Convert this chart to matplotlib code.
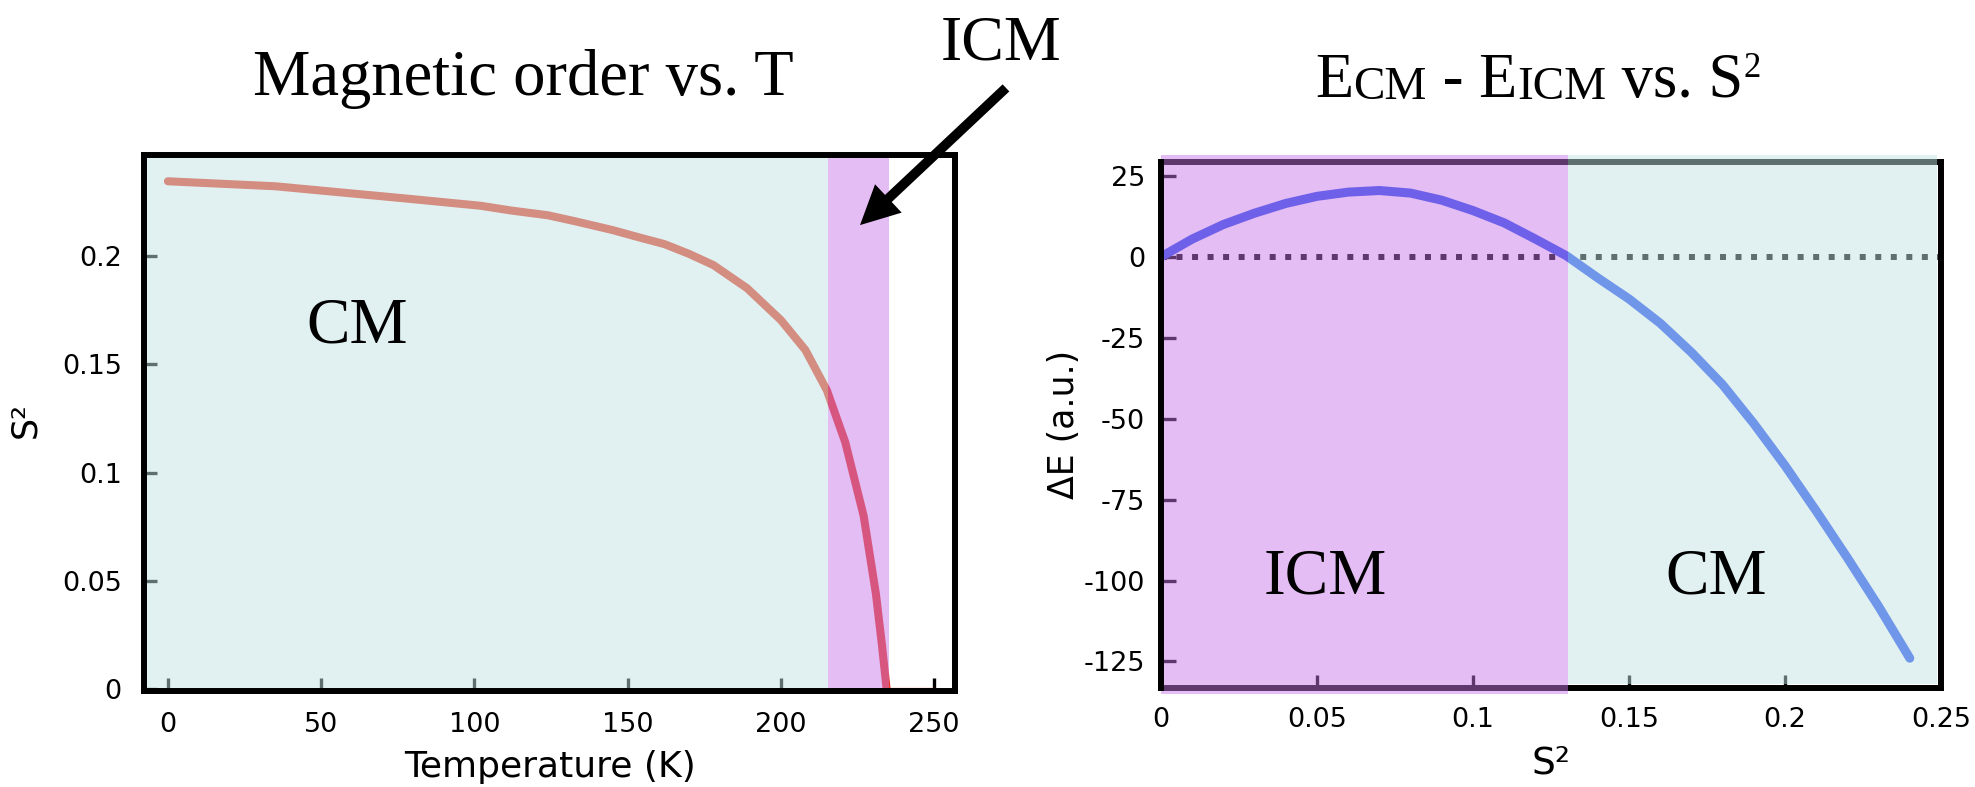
import matplotlib
matplotlib.use("Agg")
import matplotlib.pyplot as plt
from matplotlib.patches import Rectangle, FancyArrowPatch

plt.rcParams['font.family'] = ['DejaVu Sans']
plt.rcParams['axes.unicode_minus'] = False

# ── data ──────────────────────────────────────────────────────────────────────
# left panel: order parameter vs temperature
temp_K = [0, 35, 78, 102, 112, 124, 133, 145, 154, 162, 170, 178, 189, 200,
          208, 215, 221, 227, 231, 233, 234.5]
s2_T   = [0.2345, 0.2322, 0.2265, 0.2232, 0.2210, 0.2188, 0.2160, 0.2120, 0.2085,
          0.2055, 0.2010, 0.1958, 0.1851, 0.1704, 0.1566, 0.1380, 0.1140, 0.0800,
          0.0440, 0.0200, 0.0]
zero_T  = [234.5, 250]
zero_s2 = [0.0, 0.0]
icm_T = (215.4, 235.2)        # ICM window in temperature
cm_T_end = 215.4

x_ticks_T = [0, 50, 100, 150, 200, 250]
y_ticks_s2 = [0, 0.05, 0.1, 0.15, 0.2]
y_tick_lbl_s2 = ["0", "0.05", "0.1", "0.15", "0.2"]

# right panel: energy difference vs S^2
s2 = [0, 0.01, 0.02, 0.03, 0.04, 0.05, 0.06, 0.07, 0.08, 0.09, 0.10, 0.11, 0.12,
      0.13, 0.14, 0.15, 0.16, 0.17, 0.18, 0.19, 0.20, 0.21, 0.22, 0.23, 0.24]
dE = [0, 5.5, 10, 13.5, 16.5, 18.7, 20.0, 20.5, 19.7, 17.5, 14.3, 10.5, 5.5,
      0.3, -6.5, -13, -20.5, -29.5, -39.5, -51.5, -64.5, -78.5, -93, -108, -124]
s2_split = 0.1304             # ICM | CM boundary
s2_cm_end = 0.2488
x_ticks_s2 = [0, 0.05, 0.1, 0.15, 0.2, 0.25]
x_tick_lbl_s2 = ["0", "0.05", "0.1", "0.15", "0.2", "0.25"]
y_ticks_dE = [25, 0, -25, -50, -75, -100, -125]

# ── colours ──────────────────────────────────────────────────────────────────
CYAN = (194/255, 227/255, 229/255)
PURPLE = (197/255, 117/255, 230/255)
A_CYAN, A_PURPLE = 0.49, 0.478
RED = '#e73b23'
BLUE = '#214eec'
SERIF = ['Liberation Serif', 'DejaVu Serif']

W, H = 1975, 787
fig = plt.figure(figsize=(W/100, H/100), dpi=100)

ax1 = fig.add_axes([144/W, 1-691/H, 811/W, 535.5/H])
ax2 = fig.add_axes([1161/W, 1-688/H, 780/W, 526.3/H])

for ax in (ax1, ax2):
    for sp in ax.spines.values():
        sp.set_linewidth(4.3)
        sp.set_zorder(20)

# ── left panel ───────────────────────────────────────────────────────────────
ax1.plot(temp_K, s2_T, color=RED, lw=5.8, solid_capstyle='round',
         solid_joinstyle='round', zorder=3)
ax1.plot(zero_T, zero_s2, color=RED, lw=1.6, zorder=3)
ax1.set_xlim(-7.8, 256.8)
ax1.set_ylim(-0.0008, 0.2464)
ax1.set_xticks(x_ticks_T)
ax1.set_yticks(y_ticks_s2, y_tick_lbl_s2)
ax1.tick_params(axis='both', direction='in', length=9.5, width=2.4,
                labelsize=19.5)
ax1.tick_params(axis='y', pad=16)
ax1.tick_params(axis='x', pad=15)

xt1 = ax1.get_xaxis_transform()
ax1.add_patch(Rectangle((ax1.get_xlim()[0], 0), cm_T_end - ax1.get_xlim()[0], 1,
                        transform=xt1, facecolor=CYAN, alpha=A_CYAN, lw=0, zorder=10))
ax1.add_patch(Rectangle((icm_T[0], 0), icm_T[1] - icm_T[0], 1,
                        transform=xt1, facecolor=PURPLE, alpha=A_PURPLE, lw=0, zorder=10))

ax1.set_xlabel("Temperature (K)", fontsize=26)
ax1.xaxis.set_label_coords(0.5, -0.110)
ax1.set_ylabel("S²", fontsize=25)
ax1.yaxis.set_label_coords(-0.125, 0.506)
ax1.text(61.7, 0.1603, "CM", family=SERIF, fontsize=47, ha='center', va='baseline',
         zorder=12)

# ── right panel ──────────────────────────────────────────────────────────────
ax2.axhline(0, color='black', lw=4.3, linestyle=(0, (1, 1.6)),
            dash_capstyle='butt', zorder=3)
ax2.plot(s2, dE, color=BLUE, lw=6.5, solid_capstyle='round',
         solid_joinstyle='round', zorder=4)
ax2.set_xlim(0, 0.25)
ax2.set_ylim(-133.2, 29.4)
ax2.set_xticks(x_ticks_s2, x_tick_lbl_s2)
ax2.set_yticks(y_ticks_dE)
ax2.tick_params(axis='both', direction='in', length=9.5, width=2.4,
                labelsize=19.5)
ax2.tick_params(axis='y', pad=11.5, length=10.5)
ax2.tick_params(axis='x', pad=14)
for side in ('top', 'bottom'):
    ax2.spines[side].set_zorder(5)

xt2 = ax2.get_xaxis_transform()
ax2.add_patch(Rectangle((0, -0.012), s2_split, 1.024, transform=xt2, clip_on=False,
                        facecolor=PURPLE, alpha=A_PURPLE, lw=0, zorder=10))
ax2.add_patch(Rectangle((s2_split, 0.007), s2_cm_end - s2_split, 1.006, transform=xt2,
                        clip_on=False, facecolor=CYAN, alpha=A_CYAN, lw=0, zorder=10))

ax2.set_xlabel("S²", fontsize=27)
ax2.xaxis.set_label_coords(0.5, -0.110)
ax2.set_ylabel("ΔE (a.u.)", fontsize=25)
ax2.yaxis.set_label_coords(-0.102, 0.5)
ax2.text(0.0525, -104.1, "ICM", family=SERIF, fontsize=47, ha='center',
         va='baseline', zorder=12)
ax2.text(0.178, -104.1, "CM", family=SERIF, fontsize=47, ha='center',
         va='baseline', zorder=12)

# ── titles and arrow ─────────────────────────────────────────────────────────
fig.text(523/W, 1-95/H, "Magnetic order vs. T", family=SERIF, fontsize=46.5,
         ha='center', va='baseline')
fig.text(1001/W, 1-60/H, "ICM", family=SERIF, fontsize=46, ha='center',
         va='baseline')

# right title built from pieces: (text, size, baseline shift in px)
pieces = [("E", 45, 0), ("CM", 34, -2), (" - E", 45, 0), ("ICM", 34, -2),
          (" vs. S", 45, 0), ("2", 25, 20)]
renderer = fig.canvas.get_renderer()
texts, widths = [], []
for s, size, dy in pieces:
    t = fig.text(0, 0, s, family=SERIF, fontsize=size, ha='left', va='baseline')
    texts.append((t, dy))
    widths.append(t.get_window_extent(renderer).width)
x0 = 1538 - sum(widths) / 2
for (t, dy), w in zip(texts, widths):
    t.set_position((x0 / W, (H - 97 + dy) / H))
    x0 += w

arrow = FancyArrowPatch((1008/W, 1-86/H), (858/W, 1-227/H),
                        transform=fig.transFigure,
                        arrowstyle='simple,head_length=28,head_width=28,tail_width=7',
                        mutation_scale=1, color='black', lw=0, zorder=30)
fig.add_artist(arrow)

fig.savefig("out.png", dpi=100)
